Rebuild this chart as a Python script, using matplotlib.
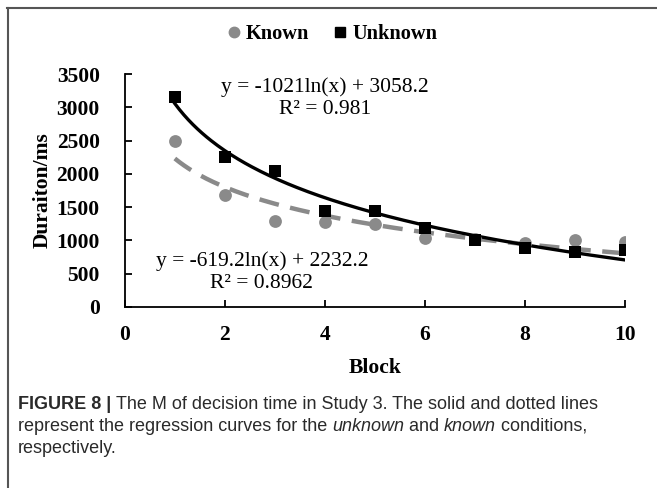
import numpy as np
import matplotlib
matplotlib.use("Agg")
import matplotlib.pyplot as plt
from matplotlib.lines import Line2D

# data
blocks = [1, 2, 3, 4, 5, 6, 7, 8, 9, 10]
known = [2500, 1690, 1290, 1280, 1240, 1030, 1020, 960, 1010, 970]
unknown = [3150, 2260, 2050, 1450, 1440, 1190, 1010, 890, 830, 860]

# log trend lines as printed on the chart
known_fit = (-619.2, 2232.2)
unknown_fit = (-1021.0, 3058.2)

x_ticks = [0, 2, 4, 6, 8, 10]
y_ticks = [0, 500, 1000, 1500, 2000, 2500, 3000, 3500]

GRAY = "#8a8a8a"
SERIF = ["Liberation Serif", "DejaVu Serif"]
SANS = ["Liberation Sans", "DejaVu Sans"]

fig = plt.figure(figsize=(6.57, 4.88), dpi=100)
ax = fig.add_axes([0.190, 0.371, 0.761, 0.477])

xs = np.linspace(1, 10, 200)
ax.plot(xs, known_fit[0] * np.log(xs) + known_fit[1], color=GRAY, lw=3.2,
        ls=(0, (4.5, 2.6)), solid_capstyle="butt", zorder=2)
ax.plot(xs, unknown_fit[0] * np.log(xs) + unknown_fit[1], color="black", lw=2.4, zorder=3)
ax.scatter(blocks, known, s=85, marker="o", color=GRAY, zorder=4, linewidths=0)
ax.scatter(blocks, unknown, s=80, marker="s", color="black", zorder=4, linewidths=0)

ax.set_xlim(0, 10)
ax.set_ylim(0, 3500)
ax.set_xticks(x_ticks)
ax.set_yticks(y_ticks)
for s in ["top", "right"]:
    ax.spines[s].set_visible(False)
for s in ["left", "bottom"]:
    ax.spines[s].set_linewidth(1.3)
ax.tick_params(direction="in", length=5, width=1.3)
ax.tick_params(axis="y", pad=18)
ax.tick_params(axis="x", pad=13)
for lab in ax.get_xticklabels() + ax.get_yticklabels():
    lab.set_family(SERIF)
    lab.set_fontweight("bold")
    lab.set_fontsize(15.5)
ax.set_xlabel("Block", family=SERIF, fontweight="bold", fontsize=15.5, labelpad=9)
ax.set_ylabel("Duraiton/ms", family=SERIF, fontweight="bold", fontsize=15.5, labelpad=3)

ax.text(4.0, 3145, "y = -1021ln(x) + 3058.2\nR² = 0.981", family=SERIF, fontsize=15.5,
        ha="center", va="center", linespacing=1.2)
ax.text(2.74, 525, "y = -619.2ln(x) + 2232.2\nR² = 0.8962", family=SERIF, fontsize=15.5,
        ha="center", va="center", linespacing=1.2)

handles = [
    Line2D([], [], ls="none", marker="o", ms=7.5, color=GRAY, label="Known"),
    Line2D([], [], ls="none", marker="s", ms=7.5, color="black", label="Unknown"),
]
fig.legend(handles=handles, loc="center", bbox_to_anchor=(0.503, 0.930), ncol=2,
           frameon=False, handletextpad=0.1, columnspacing=1.0, handlelength=1.0,
           prop={"family": SERIF, "weight": "bold", "size": 14.7})

# frame lines (top and left only)
fig.add_artist(Line2D([0.011, 1.0], [0.984, 0.984], color="#555555", lw=1.5))
fig.add_artist(Line2D([0.012, 0.012], [0.0, 0.984], color="#555555", lw=1.5))

# caption, built from pieces
renderer = fig.canvas.get_renderer()


def caption_line(pieces, x0, y):
    x = x0
    for txt, weight, style in pieces:
        t = fig.text(x, y, txt, family=SANS, fontsize=13, fontweight=weight,
                     style=style, color="#2a2a2a", va="baseline")
        bb = t.get_window_extent(renderer)
        x += bb.width / fig.bbox.width


caption_line([("FIGURE 8 | ", "bold", "normal"),
              ("The M of decision time in Study 3. The solid and dotted lines", "normal", "normal")],
             0.027, 0.162)
caption_line([("represent the regression curves for the ", "normal", "normal"),
              ("unknown", "normal", "italic"),
              (" and ", "normal", "normal"),
              ("known", "normal", "italic"),
              (" conditions,", "normal", "normal")],
             0.027, 0.117)
caption_line([("respectively.", "normal", "normal")], 0.027, 0.072)

fig.savefig("out.png", dpi=100)
